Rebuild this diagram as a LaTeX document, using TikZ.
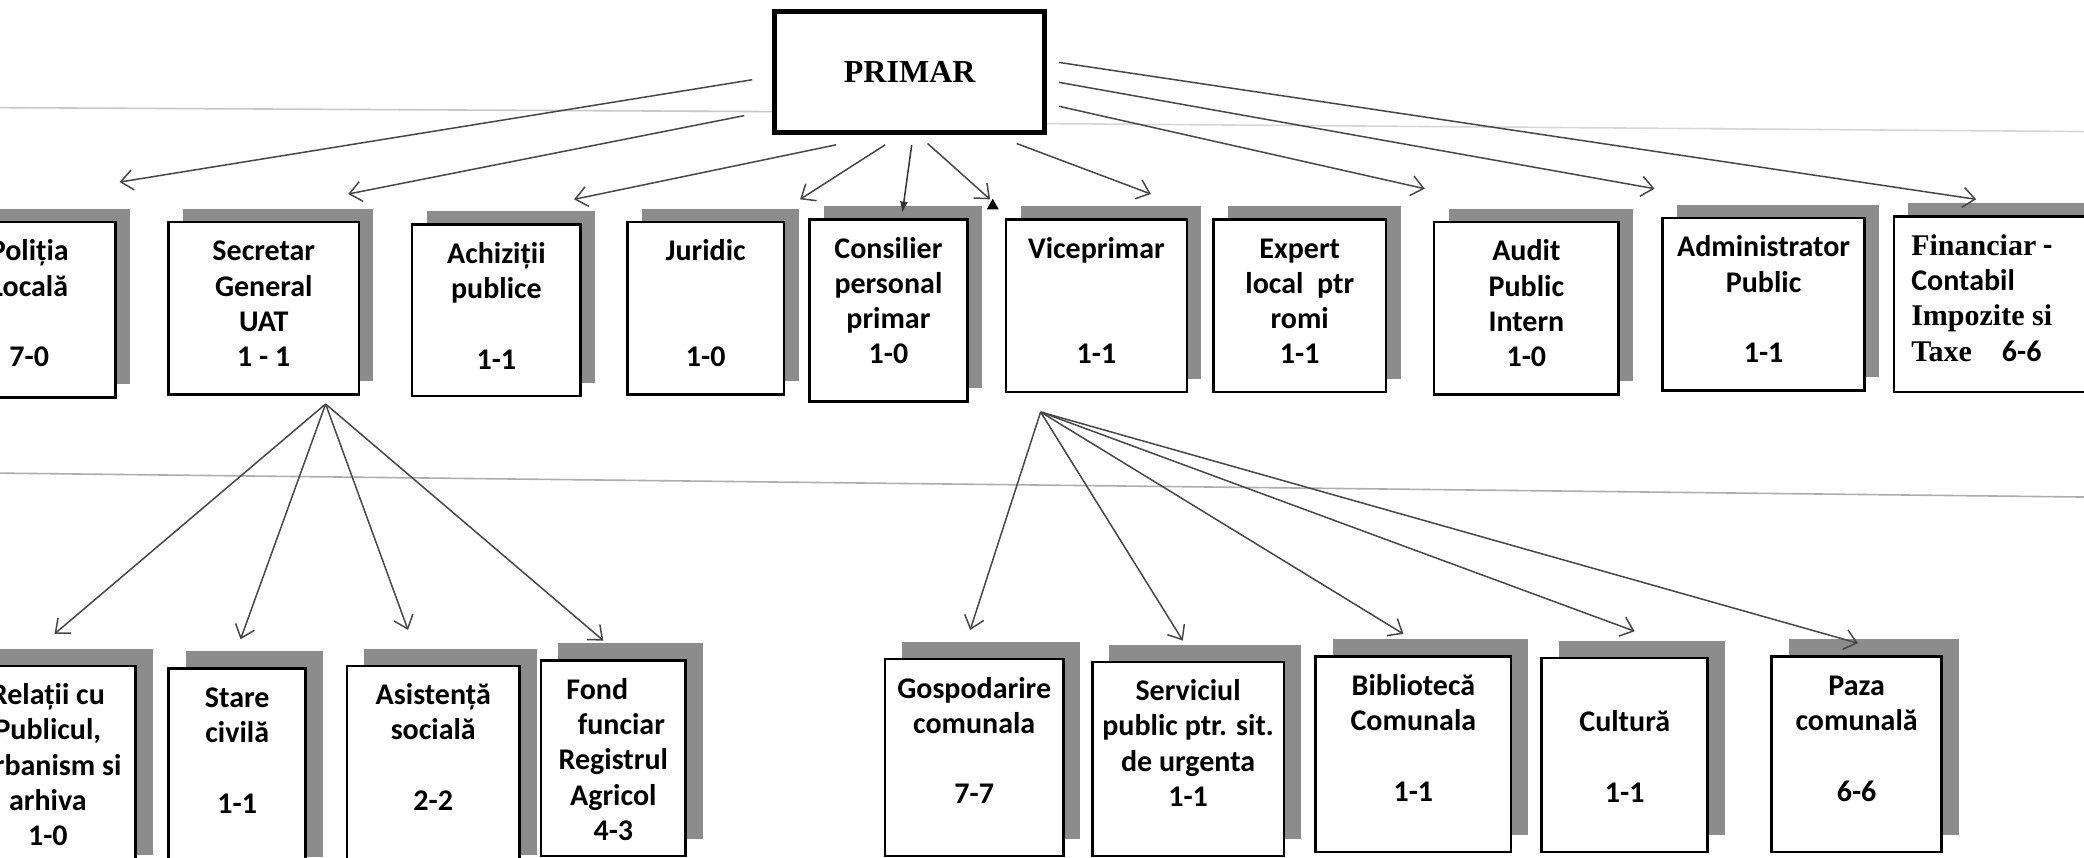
\documentclass[tikz,border=0pt]{standalone}
\usepackage{fontspec}
\setmainfont{Carlito}
\newfontfamily\tnr{Liberation Serif}
\usetikzlibrary{arrows.meta,shadows}
\tikzset{
  bx/.style={draw=black, line width=2.6pt, fill=white, inner sep=0pt},
  shtop/.style={general shadow={fill=black!45, shadow xshift=14.6pt, shadow yshift=13.3pt}},
  shbot/.style={general shadow={fill=black!45, shadow xshift=17pt, shadow yshift=17pt}},
  lbl/.style={font=\fontsize{30}{35.2}\selectfont\bfseries, align=center, inner sep=0pt, anchor=north},
  arr/.style={draw=black!72, line width=1.5pt, -{Straight Barb[length=12pt,width=20pt,line width=1.5pt]}},
  arrf/.style={draw=black!80, line width=1.5pt, -{Latex[length=11pt,width=8pt]}},
  scan/.style={line width=1.6pt},
}
\newcommand\orgbox[7]{%
  \node[bx,#6,minimum width=#4*1.329pt,minimum height=#5*1.329pt,anchor=north] (#1) at (#2,#3) {};
  \node[lbl] (#1t) at ([yshift=-15.4pt]#1.north) {\strut #7};
}
\begin{document}
\begin{tikzpicture}[x=1.329pt,y=-1.329pt]
\useasboundingbox (0,0) rectangle (1568.1,645.6);
\clip (0,0) rectangle (1568.1,645.6);
% faint scan lines
\draw[scan,black!22] (0,81) -- (583,84);
\draw[scan,black!16] (787,93) -- (1568,99);
\draw[scan,black!32] (0,356) -- (1568,374);

% top
\node[draw, line width=5pt, minimum width=203*1.329pt, minimum height=91*1.329pt, inner sep=0pt,
      font=\fontsize{32}{38}\selectfont\tnr\bfseries] (primar) at (684.5,54.5) {PRIMAR};

% first row
\orgbox{pol}{22}{166}{130}{132}{shtop}{Poliția\\Locală\\~\\7-0}
\orgbox{sec}{198.5}{166}{143}{130}{shtop}{Secretar\\General\\UAT\\1 - 1}
\orgbox{ach}{373.5}{168}{127}{129}{shtop}{Achiziții\\publice\\~\\1-1}
\orgbox{jur}{531}{166}{118}{130}{shtop}{Juridic\\~\\~\\1-0}
\orgbox{con}{668.5}{164}{119}{137}{shtop}{Consilier\\personal\\primar\\1-0}
\orgbox{vic}{825}{164}{136}{130}{shtop}{Viceprimar\\~\\~\\1-1}
\orgbox{exp}{978}{164}{130}{130}{shtop}{Expert\\local\ \ ptr\\romi\\1-1}
\orgbox{aud}{1148.5}{166}{139}{130}{shtop}{Audit\\Public\\Intern\\1-0}
\orgbox{adm}{1327}{163}{152}{130}{shtop}{Administrator\\Public\\~\\1-1}
\node[bx,shtop,minimum width=160*1.329pt,minimum height=132*1.329pt,anchor=north west] (fin) at (1424,162) {};
\node[lbl,anchor=north west,align=left] (fint) at ([xshift=18.6pt,yshift=-15.4pt]fin.north west)
  {\strut{\tnr Financiar} -\\Contabil\\{\tnr Impozite si}\\{\tnr Taxe}\quad 6-6};

% second row
\orgbox{rel}{36}{500}{132}{155}{shbot}{Relații cu\\Publicul,\\Urbanism si\\arhiva\\1-0}
\orgbox{sta}{178.5}{502}{103}{155}{shbot}{Stare\\civilă\\~\\1-1}
\orgbox{asi}{326}{500}{130}{155}{shbot}{Asistență\\socială\\~\\2-2}
\orgbox{fon}{461.5}{496}{109}{147}{shbot}{Fond\hphantom{nn}\\\hphantom{n}funciar\\Registrul\\Agricol\\4-3}
\orgbox{gos}{733}{495}{134}{148}{shbot}{Gospodarire\\comunala\\~\\7-7}
\orgbox{ser}{894}{497}{144}{146}{shbot}{Serviciul\\public ptr. sit.\\de urgenta\\1-1}
\orgbox{bib}{1063.5}{493}{147}{147}{shbot}{Bibliotecă\\Comunala\\~\\1-1}
\orgbox{cul}{1222.5}{494}{125}{146}{shbot}{~\\Cultură\\~\\1-1}
\orgbox{paz}{1397}{493}{128}{147}{shbot}{Paza\\comunală\\~\\6-6}

% arrow ends
\coordinate (pa1) at (566,60);   \coordinate (ta1) at (90,137);
\coordinate (pa2) at (560,87);   \coordinate (ta2) at (262,146);
\coordinate (pa3) at (629,109);  \coordinate (ta3) at (432,150);
\coordinate (pa4) at (666,109);  \coordinate (ta4) at (602,150);
\coordinate (pa5) at (686,109);  \coordinate (ta5) at (679,160);
\coordinate (pa6) at (698,108);  \coordinate (ta6) at (745,150);
\coordinate (pa7) at (765,108);  \coordinate (ta7) at (866,146);
\coordinate (pa8) at (797,80);   \coordinate (ta8) at (1072,142);
\coordinate (pa9) at (797,62);   \coordinate (ta9) at (1245,142);
\coordinate (pa10) at (797,47);  \coordinate (ta10) at (1487,150);

\draw[arr] (pa1) -- (ta1);
\draw[arr] (pa2) -- (ta2);
\draw[arr] (pa3) -- (ta3);
\draw[arr] (pa4) -- (ta4);
\draw[arrf] (pa5) -- (ta5);
\draw[arr] (pa6) -- (ta6);
\fill[black] (742.5,157.5) -- (751.5,157.5) -- (747,149.5) -- cycle;
\draw[arr] (pa7) -- (ta7);
\draw[arr] (pa8) -- (ta8);
\draw[arr] (pa9) -- (ta9);
\draw[arr] (pa10) -- (ta10);

% fan from Secretar
\coordinate (secfan) at (245,304);
\coordinate (ts1) at (41,477);
\coordinate (ts2) at (181,481);
\coordinate (ts3) at (307,474);
\coordinate (ts4) at (454,482);
\foreach \t in {ts1,ts2,ts3,ts4} \draw[arr] (secfan) -- (\t);

% fan from Viceprimar
\coordinate (vicfan) at (783,310);
\coordinate (tv1) at (730,474);
\coordinate (tv2) at (890,482);
\coordinate (tv3) at (1056,477);
\coordinate (tv4) at (1230,475);
\coordinate (tv5) at (1398,484);
\foreach \t in {tv1,tv2,tv3,tv4,tv5} \draw[arr] (vicfan) -- (\t);
\end{tikzpicture}
\end{document}
